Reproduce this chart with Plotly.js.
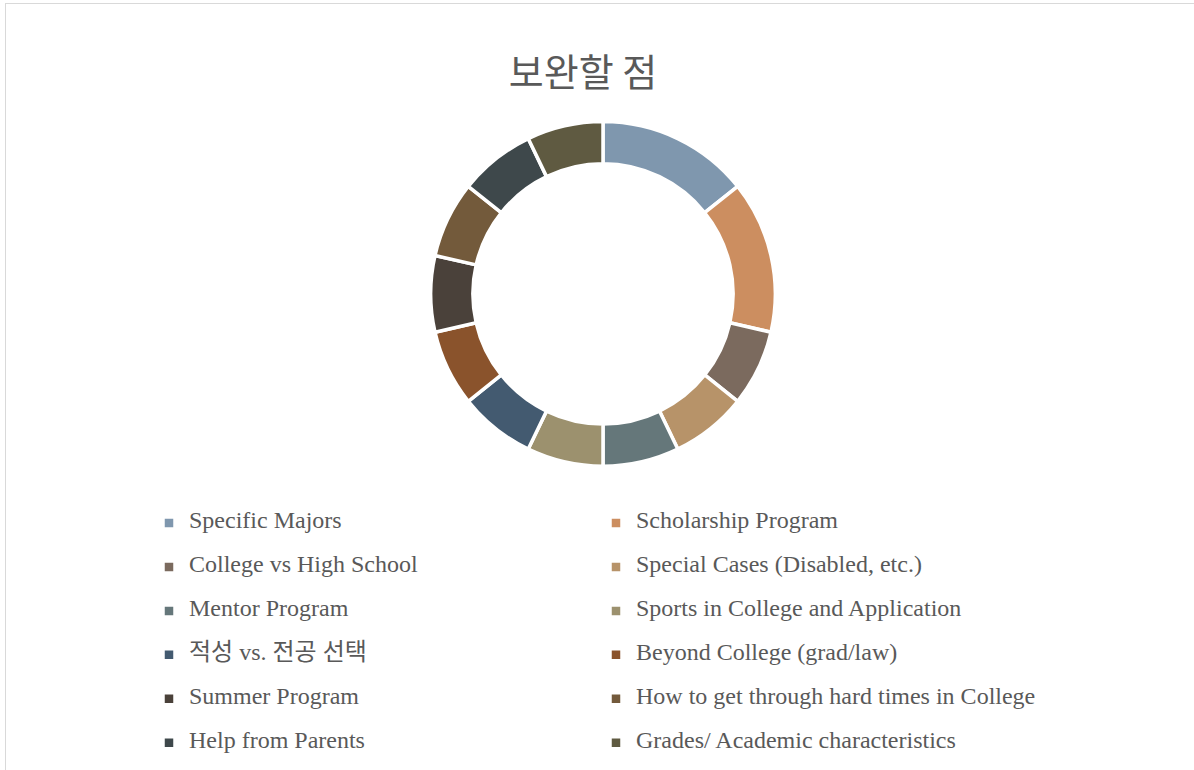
<!DOCTYPE html>
<html>
<head>
<meta charset="utf-8">
<script src="https://cdn.plot.ly/plotly-3.0.1.min.js"></script>
<style>
  html, body { margin: 0; padding: 0; background: #ffffff; }
  #frame { position: absolute; left: 5px; top: 3px; width: 1189px; height: 767px;
           border-left: 1.5px solid #d9d9d9; border-top: 1.5px solid #d9d9d9; box-sizing: border-box; }
  #chart { position: absolute; left: 0; top: 0; width: 1194px; height: 770px; }
</style>
</head>
<body>
<div id="frame"></div>
<div id="chart"></div>
<script>
const chartTitle = '보완할 점';
const categories = [
  'Specific Majors',
  'Scholarship Program',
  'College vs High School',
  'Special Cases (Disabled, etc.)',
  'Mentor Program',
  'Sports in College and Application',
  '적성 vs. 전공 선택',
  'Beyond College (grad/law)',
  'Summer Program',
  'How to get through hard times in College',
  'Help from Parents',
  'Grades/ Academic characteristics'
];
const values = [2, 2, 1, 1, 1, 1, 1, 1, 1, 1, 1, 1];
const colors = [
  '#7F97AE', '#CC8E60', '#7B6A5E', '#B79369', '#65777A', '#9C916E',
  '#435A70', '#8A532C', '#4A413A', '#735A3B', '#3E484B', '#5F5A41'
];

const W = 1194, H = 770;
const cx = 603, cy = 295, R = 173;

const legendLabels = categories.map(c =>
  '<span style="font-size:24px;baseline-shift:7px">' + c + '</span>');

const trace = {
  type: 'pie',
  labels: legendLabels,
  values: values,
  hole: 0.755,
  sort: false,
  direction: 'clockwise',
  rotation: 0,
  textinfo: 'none',
  hoverinfo: 'label+value+percent',
  marker: { colors: colors, line: { color: '#ffffff', width: 3.5 } },
  domain: {
    x: [(cx - R) / W, (cx + R) / W],
    y: [1 - (cy + R) / H, 1 - (cy - R) / H]
  },
  showlegend: true
};

const layout = {
  width: W, height: H,
  margin: { l: 0, r: 0, t: 0, b: 0 },
  paper_bgcolor: 'rgba(0,0,0,0)',
  plot_bgcolor: 'rgba(0,0,0,0)',
  title: {
    text: chartTitle,
    font: { family: 'Noto Sans CJK KR, Noto Sans, sans-serif', size: 38, color: '#595959' },
    x: 583 / W, xanchor: 'center',
    y: 1 - 73 / H, yanchor: 'middle'
  },
  legend: {
    orientation: 'h',
    x: 149 / W, xanchor: 'left',
    y: 1 - 498 / H, yanchor: 'top',
    entrywidth: 402,
    entrywidthmode: 'pixels',
    font: { family: 'Liberation Serif, Noto Sans CJK KR, serif', size: 31.5, color: '#595959' },
    bgcolor: 'rgba(0,0,0,0)'
  }
};

Plotly.newPlot('chart', [trace], layout, { displayModeBar: false, responsive: false });
</script>
</body>
</html>
